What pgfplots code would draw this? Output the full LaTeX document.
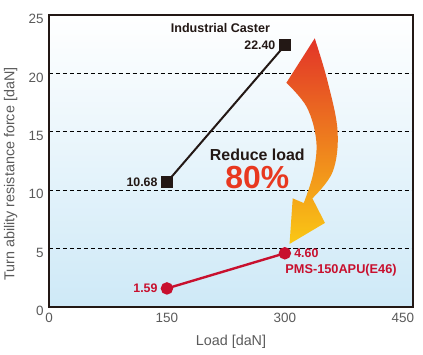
\documentclass[border=0pt]{standalone}
\usepackage{fontspec}
\setmainfont{Liberation Sans}
\usepackage{pgfplots}
\pgfplotsset{compat=1.18}
\definecolor{bgblue}{RGB}{206,233,247}
\definecolor{crim}{RGB}{200,16,46}
\definecolor{blk}{RGB}{35,24,21}
\definecolor{orred}{RGB}{232,56,31}
\definecolor{arrtop}{RGB}{226,52,40}
\definecolor{arrmid}{RGB}{238,135,45}
\definecolor{arrbot}{RGB}{250,200,20}
\definecolor{tickgray}{RGB}{90,90,90}
\begin{document}
\begin{tikzpicture}
\begin{axis}[
  at={(49bp,48bp)}, anchor=south west,
  scale only axis, width=364bp, height=292bp,
  xmin=0, xmax=463, ymin=0, ymax=25,
  xtick={0,150,300,450}, ytick={0,5,...,25},
  major tick length=0pt,
  axis line style={line width=2.4pt, color=blk},
  ymajorgrids, grid style={black, line width=0.9pt, dash pattern=on 4.5pt off 2.5pt},
  axis background/.style={top color=white, bottom color=bgblue},
  tick label style={font=\fontsize{13.5}{16}\selectfont, text=tickgray},
  /pgf/number format/assume math mode=true,
  xticklabel style={yshift=-3pt},
  yticklabel style={xshift=-2pt, yshift=-4pt},
  xlabel={Load [daN]}, ylabel={Turn ability resistance force [daN]},
  label style={font=\fontsize{14.4}{17}\selectfont, text=tickgray},
  xlabel style={at={(axis description cs:0.5,-0.12)}, anchor=center},
  ylabel style={at={(axis description cs:-0.105,0.455)}, anchor=center},
  clip=false,
]
\shade[top color=arrtop, middle color=arrmid, bottom color=arrbot]
  plot[smooth, tension=0.6] coordinates {(338,23.0) (354,19.4) (367,15.1) (361,11.6) (335,9.3)}
  -- (351,7.2) -- (306,5.4) -- (310,9.3) -- (324,8.9)
  -- plot[smooth, tension=0.6] coordinates {(324,8.9) (336,11.4) (340,14.2) (328,17.1) (302,19.2)}
  -- cycle;
\addplot[blk, line width=2pt, mark=square*, mark size=5pt, mark options={fill=blk}] coordinates {(150,10.68) (300,22.40)};
\addplot[crim, line width=2.4pt, mark=*, mark size=5pt, mark options={fill=crim}] coordinates {(150,1.59) (300,4.60)};
\node[font=\bfseries\fontsize{12.6}{14}\selectfont, text=blk] at (axis cs:218,23.85) {Industrial Caster};
\node[anchor=east, font=\bfseries\fontsize{12.4}{14}\selectfont, text=blk, xshift=-6pt] at (axis cs:300,22.4) {22.40};
\node[anchor=east, font=\bfseries\fontsize{12.4}{14}\selectfont, text=blk, xshift=-6pt] at (axis cs:150,10.68) {10.68};
\node[anchor=east, font=\bfseries\fontsize{12.4}{14}\selectfont, text=crim, xshift=-6pt] at (axis cs:150,1.59) {1.59};
\node[anchor=west, font=\bfseries\fontsize{12.4}{14}\selectfont, text=crim, xshift=6pt] at (axis cs:300,4.60) {4.60};
\node[anchor=north west, font=\bfseries\fontsize{12.8}{14}\selectfont, text=crim, xshift=-3pt, yshift=-7pt] at (axis cs:300,4.60) {PMS-150APU(E46)};
\node[font=\bfseries\fontsize{16}{19}\selectfont, text=blk] at (axis cs:265,13.0) {Reduce load};
\node[font=\bfseries\fontsize{32}{36}\selectfont, text=orred] at (axis cs:265,11.1) {80\%};
\end{axis}
\pgfresetboundingbox
\path (0,0) rectangle (423bp,355bp);
\end{tikzpicture}
\end{document}
